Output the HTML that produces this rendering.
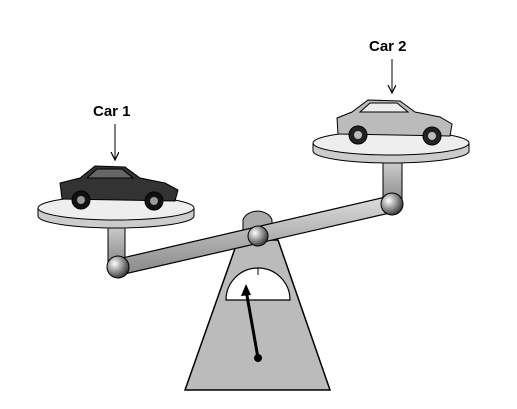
<!DOCTYPE html>
<html><head><meta charset="utf-8"><style>
html,body{margin:0;padding:0;background:#fff;}
svg{display:block;}
text{font-family:"Liberation Sans",sans-serif;font-weight:bold;font-size:15px;fill:#000;}
</style></head><body>
<svg width="517" height="409" viewBox="0 0 517 409">
<defs>
<radialGradient id="ball" cx="0.35" cy="0.35" r="0.7"><stop offset="0" stop-color="#fff"/><stop offset="0.5" stop-color="#999"/><stop offset="1" stop-color="#333"/></radialGradient>
<linearGradient id="beamg" x1="0" y1="0" x2="0" y2="1"><stop offset="0" stop-color="#ddd"/><stop offset="1" stop-color="#888"/></linearGradient>
<marker id="ah" markerWidth="9" markerHeight="9" refX="8" refY="4" orient="auto" markerUnits="userSpaceOnUse"><path d="M0,0 L8,4 L0,8" fill="none" stroke="#000" stroke-width="1.2"/></marker>
</defs>
<g>
<polygon points="238,240 278,240 330,390 185,390" fill="#bbb" stroke="#000" stroke-width="1.5"/>
</g>
<g>
<path d="M226,300 A32,32 0 0 1 290,300 Z" fill="#fff" stroke="#000" stroke-width="1.2"/>
<line x1="258" y1="268" x2="258" y2="275" stroke="#000"/>
<line x1="258" y1="358" x2="246" y2="290" stroke="#000" stroke-width="3"/>
<polygon points="246,284 241,296 251,295" fill="#000"/>
<circle cx="258" cy="358" r="4" fill="#000"/>
</g>
<g><rect x="108" y="216" width="17" height="50" fill="url(#beamg)" stroke="#000"/></g>
<g><rect x="383" y="152" width="19" height="52" fill="url(#beamg)" stroke="#000"/></g>
<g><path d="M243,232 L243,220 A15,12 0 0 1 272,220 L272,232 Z" fill="#aaa" stroke="#000"/></g>
<g>
<polygon points="118,259 390,196 394,212 120,275" fill="url(#beamg)" stroke="#000" stroke-width="1.2"/>
</g>
<circle cx="118" cy="267" r="11" fill="url(#ball)" stroke="#000"/>
<circle cx="392" cy="204" r="11" fill="url(#ball)" stroke="#000"/>
<circle cx="258" cy="236" r="10" fill="url(#ball)" stroke="#000"/>
<g>
<path d="M38,208 L38,216 A78,12 0 0 0 194,216 L194,208" fill="#ccc" stroke="#000"/>
<ellipse cx="116" cy="208" rx="78" ry="12" fill="#eee" stroke="#000"/>
</g>
<g>
<path d="M313,143 L313,151 A78,12 0 0 0 469,151 L469,143" fill="#ccc" stroke="#000"/>
<ellipse cx="391" cy="143" rx="78" ry="12" fill="#eee" stroke="#000"/>
</g>
<g>
<path d="M60,183 L62,199 L175,201 L178,190 L165,183 L140,178 L125,167 L95,166 L80,178 Z" fill="#333" stroke="#000"/>
<path d="M87,178 L97,169 L122,169 L133,178 Z" fill="#666" stroke="#000"/>
<circle cx="81" cy="200" r="9" fill="#111" stroke="#000"/><circle cx="81" cy="200" r="4" fill="#999"/>
<circle cx="154" cy="201" r="9" fill="#111" stroke="#000"/><circle cx="154" cy="201" r="4" fill="#999"/>
</g>
<g>
<path d="M337,118 L338,134 L450,136 L452,124 L440,117 L415,112 L400,101 L368,100 L352,112 Z" fill="#bbb" stroke="#000"/>
<path d="M360,112 L370,103 L397,103 L408,112 Z" fill="#eee" stroke="#000"/>
<circle cx="358" cy="135" r="9" fill="#222" stroke="#000"/><circle cx="358" cy="135" r="4" fill="#bbb"/>
<circle cx="432" cy="136" r="9" fill="#222" stroke="#000"/><circle cx="432" cy="136" r="4" fill="#bbb"/>
</g>
<text x="93" y="116">Car 1</text>
<line x1="115" y1="124" x2="115" y2="160" stroke="#000" marker-end="url(#ah)"/>
<text x="369" y="51">Car 2</text>
<line x1="392" y1="59" x2="392" y2="93" stroke="#000" marker-end="url(#ah)"/>
</svg>
</body></html>
